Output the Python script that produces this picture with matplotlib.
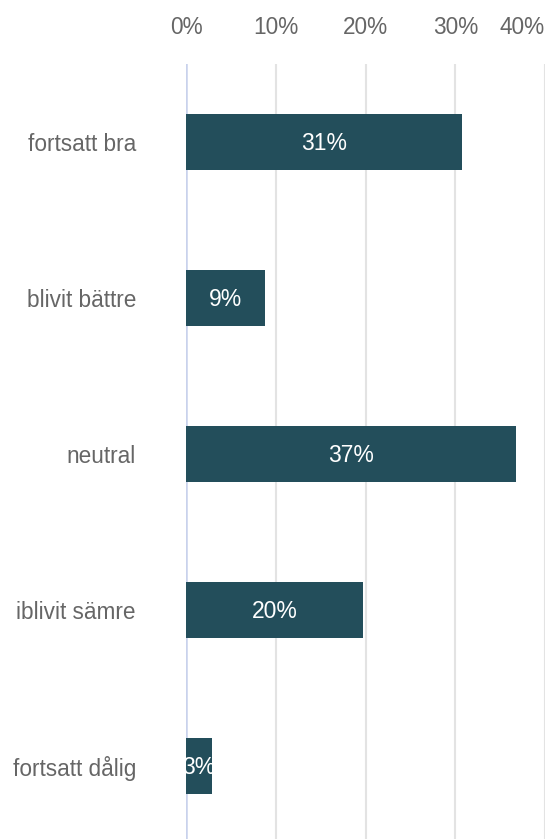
import matplotlib
matplotlib.use("Agg")
import matplotlib.pyplot as plt

categories = ["fortsatt bra", "blivit bättre", "neutral", "iblivit sämre", "fortsatt dålig"]
values = [30.8, 8.8, 36.8, 19.7, 2.9]
labels = ["31%", "9%", "37%", "20%", "3%"]
xticks = [0, 10, 20, 30, 40]
xticklabels = ["0%", "10%", "20%", "30%", "40%"]

plt.rcParams['font.family'] = ['Liberation Sans', 'DejaVu Sans']

W, H = 546, 839
fig = plt.figure(figsize=(W / 100, H / 100), dpi=100)
ax = fig.add_axes([186 / W, 0, (545 - 186) / W, 1 - 64 / H])

y = list(range(len(categories)))
bars = ax.barh(y, values, height=0.36, color="#234e5b", zorder=3)
for b, lab in zip(bars, labels):
    ax.text(b.get_x() + b.get_width() / 2, b.get_y() + b.get_height() / 2 + 0.01, lab,
            ha="center", va="center", color="white", fontsize=16.5, zorder=4)

ax.set_xlim(0, 40)
ax.set_ylim(4.47, -0.5)
ax.set_xticks(xticks)
ax.set_xticklabels(xticklabels)
ax.xaxis.tick_top()
ax.set_yticks(y)
ax.set_yticklabels(categories)
ax.tick_params(axis="x", length=0, pad=18, labelsize=16.3, labelcolor="#666666")
ax.tick_params(axis="y", length=0, pad=36, labelsize=16.3, labelcolor="#666666")
ax.get_xticklabels()[-1].set_horizontalalignment("right")

ax.set_axisbelow(True)
ax.grid(axis="x", color="#e3e3e3", linewidth=1.5)
ax.grid(axis="y", visible=False)
for s in ax.spines.values():
    s.set_visible(False)
ax.axvline(0, color="#c9d2ec", linewidth=1.8, zorder=2)

fig.savefig("out.png", dpi=100)
